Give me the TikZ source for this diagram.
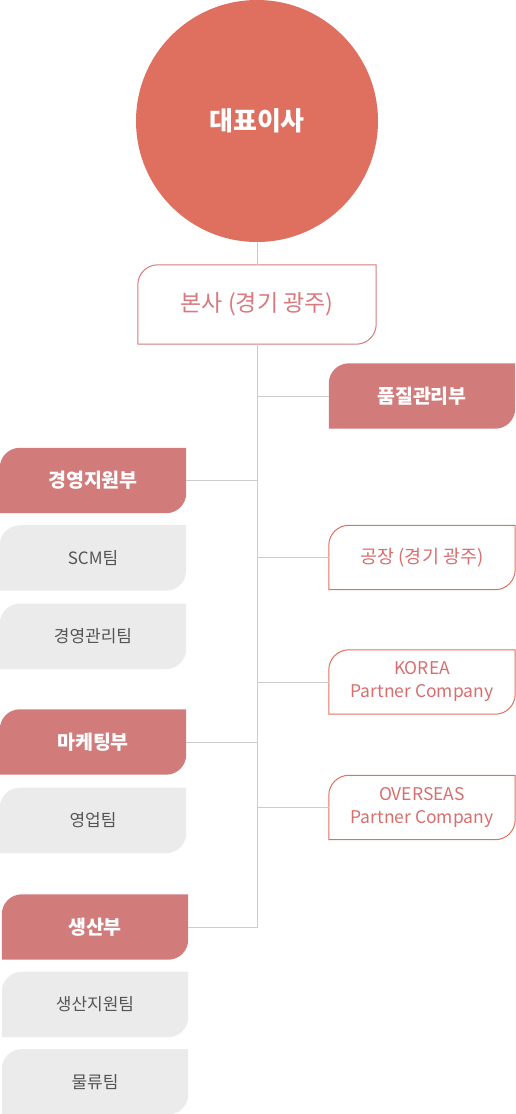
\documentclass[tikz,border=0pt]{standalone}
\usepackage{fontspec}
\setmainfont{Noto Sans CJK KR}
\usepackage{tikz}
\usetikzlibrary{positioning}

\definecolor{ceored}{HTML}{DF6F5F}
\definecolor{deptred}{HTML}{D17B7B}
\definecolor{hqline}{HTML}{D8797E}
\definecolor{siteline}{HTML}{E2705F}
\definecolor{sitetext}{HTML}{D86F6F}
\definecolor{teamgray}{HTML}{EBEBEB}
\definecolor{teamtext}{HTML}{555555}
\definecolor{trunkgray}{HTML}{CCCCCC}

\pgfdeclarelayer{background}
\pgfsetlayers{background,main}

\tikzset{
  boxbase/.style={rectangle, inner sep=0pt, minimum width=186pt, minimum height=65pt, align=center},
  dept/.style={boxbase, text=white, font=\fontsize{19.5}{22}\selectfont\bfseries},
  team/.style={boxbase, text=teamtext, font=\fontsize{17}{20}\selectfont},
  site/.style={boxbase, minimum height=64pt, text=sitetext, font=\fontsize{17.5}{23}\selectfont},
  branch/.style={draw=trunkgray, line width=1pt},
}

% box with round top left and bottom right corners
\newcommand\leafshape[2]{(#1.south west) -- ([yshift=-#2]#1.north west)
  arc[start angle=180, end angle=90, radius=#2] -- (#1.north east)
  -- ([yshift=#2]#1.south east) arc[start angle=0, end angle=-90, radius=#2] -- cycle}

\begin{document}
\begin{tikzpicture}[x=1pt, y=-1pt]
 \useasboundingbox (0,0) rectangle (516,1114);

 \node[circle, fill=ceored, minimum size=242pt, inner sep=0pt, text=white,
   font=\fontsize{26}{30}\selectfont\bfseries] (ceo) at (257,121) {대표이사};
 \node[boxbase, minimum width=238pt, minimum height=79pt, text=hqline,
   font=\fontsize{23}{26}\selectfont] (hq) at (257,304.5) {본사 (경기 광주)};

 %right side
 \node[dept] (quality) at (422,396) {품질관리부};
 \node[site, font=\fontsize{18.5}{23}\selectfont] (factory) at (422,557.5) {공장 (경기 광주)};
 \node[site] (korea) at (422,682) {KOREA\\Partner Company};
 \node[site] (overseas) at (422,807.5) {OVERSEAS\\Partner Company};

 %left side
 \node[dept] (support) at (93,480.5) {경영지원부};
 \node[team, below=12pt of support] (scm) {SCM팀};
 \node[team, below=13pt of scm] (mgmt) {경영관리팀};
 \node[dept] (marketing) at (93,742) {마케팅부};
 \node[team, below=13pt of marketing] (sales) {영업팀};
 \node[dept] (production) at (95,927) {생산부};
 \node[team, below=12pt of production] (prodsup) {생산지원팀};
 \node[team, below=12pt of prodsup] (logistics) {물류팀};

 \begin{pgfonlayer}{background}
  \draw[draw=hqline, fill=white, line width=1pt] \leafshape{hq}{20pt};
  \foreach \n in {quality,support,marketing,production}
   \fill[deptred] \leafshape{\n}{20pt};
  \foreach \n in {scm,mgmt,sales,prodsup,logistics}
   \fill[teamgray] \leafshape{\n}{20pt};
  \foreach \n in {factory,korea,overseas}
   \draw[draw=siteline, fill=white, line width=1pt] \leafshape{\n}{20pt};
 \end{pgfonlayer}

 \draw[branch] (ceo) -- (hq);
 \draw[branch] (hq.south) -- (hq.south |- production.east) -- (production.east);
 \foreach \n in {quality,factory,korea,overseas}
  \draw[branch] (hq.south |- \n.west) -- (\n.west);
 \foreach \n in {support,marketing}
  \draw[branch] (hq.south |- \n.east) -- (\n.east);
\end{tikzpicture}
\end{document}
